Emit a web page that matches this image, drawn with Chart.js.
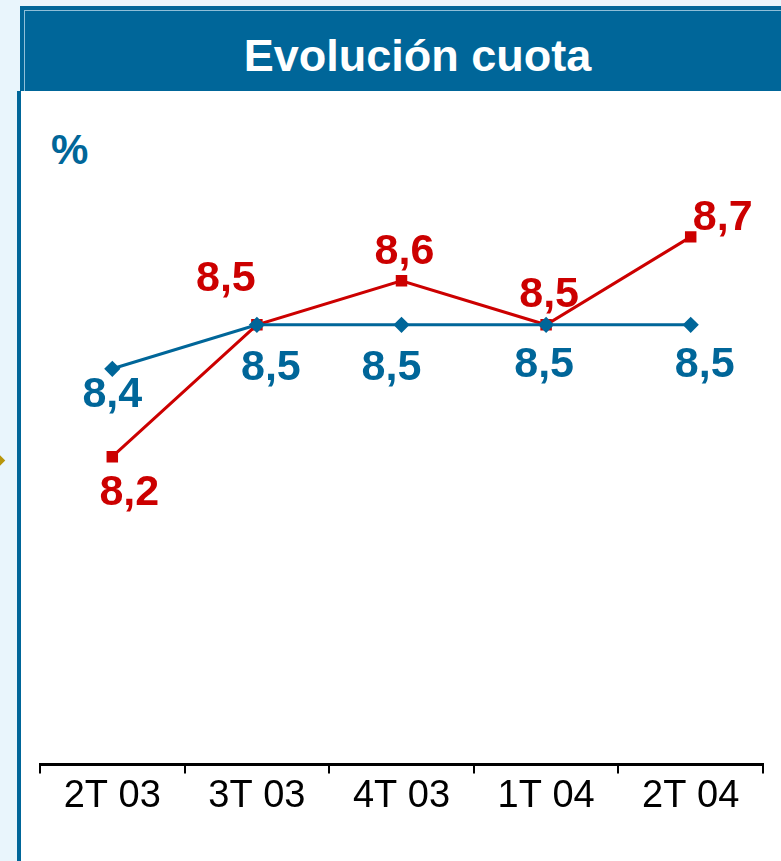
<!DOCTYPE html>
<html>
<head>
<meta charset="utf-8">
<script src="https://cdn.jsdelivr.net/npm/chart.js@4/dist/chart.umd.min.js"></script>
<style>
  html, body { margin: 0; padding: 0; }
  body { width: 781px; height: 861px; background: #e9f5fc; position: relative; overflow: hidden; font-family: "Liberation Sans", Arial, sans-serif; }
  .header { position: absolute; left: 20px; top: 6px; width: 761px; height: 85px; background: #006699; }
  .header .inner { position: absolute; left: 4px; top: 4px; right: 0; bottom: 0; border-top: 1px solid #8fbfd8; border-left: 1px solid #8fbfd8; }
  .header h1 { margin: 0; position: absolute; left: 0; right: -34px; top: 25px; text-align: center; color: #fff; font: bold 45px "Liberation Sans", Arial, sans-serif; line-height: 50px; }
  .panel { position: absolute; left: 17px; top: 91px; width: 764px; height: 770px; background: #fff; border-left: 4px solid #006699; box-sizing: border-box; }
  .unit { position: absolute; left: 51px; top: 126px; color: #006699; font: bold 42px "Liberation Sans", Arial, sans-serif; }
  .mark { position: absolute; left: -8px; top: 455px; width: 11px; height: 11px; background: #b8960c; transform: rotate(45deg); }
  #chart { position: absolute; left: 0; top: 0; }
</style>
</head>
<body>
<div class="header"><div class="inner"></div><h1>Evolución cuota</h1></div>
<div class="panel"></div>
<div class="mark"></div>
<div class="unit">%</div>
<canvas id="chart" width="781" height="861"></canvas>
<script>
// datos
const trimestres = ['2T 03', '3T 03', '4T 03', '1T 04', '2T 04'];
const serieAzul = [8.4, 8.5, 8.5, 8.5, 8.5];
const serieRoja = [8.2, 8.5, 8.6, 8.5, 8.7];

// desplazamiento de cada etiqueta respecto a su punto (px)
const offsetsAzul = [[0, 26], [14, 43], [-10, 43], [-2, 40], [14, 40]];
const offsetsRoja = [[17, 36], [-31, -46], [3, -29], [3, -30], [32, -19]];

const AZUL = '#006699';
const ROJO = '#cc0000';

const etiquetasPlugin = {
    id: 'etiquetas',
    afterDatasetsDraw(chart) {
        const ctx = chart.ctx;
        ctx.save();
        ctx.font = 'bold 43px "Liberation Sans", Arial, sans-serif';
        ctx.textAlign = 'center';
        ctx.textBaseline = 'middle';
        chart.data.datasets.forEach((ds, i) => {
            const meta = chart.getDatasetMeta(i);
            ctx.fillStyle = ds.borderColor;
            meta.data.forEach((pt, j) => {
                const off = ds.offsets[j];
                const txt = ds.data[j].toFixed(1).replace('.', ',');
                ctx.fillText(txt, pt.x + off[0], pt.y + off[1]);
            });
        });
        ctx.restore();
    }
};

new Chart(document.getElementById('chart'), {
    type: 'line',
    data: {
        labels: trimestres,
        datasets: [
            {
                data: serieAzul, offsets: offsetsAzul,
                borderColor: AZUL, backgroundColor: AZUL, borderWidth: 3,
                pointStyle: 'rectRot', pointRadius: 6, tension: 0, clip: false
            },
            {
                data: serieRoja, offsets: offsetsRoja,
                borderColor: ROJO, backgroundColor: ROJO, borderWidth: 3,
                pointStyle: 'rect', pointRadius: 6, tension: 0, clip: false
            }
        ]
    },
    options: {
        responsive: false,
        animation: false,
        layout: { padding: { left: 40, right: 18, top: 105, bottom: 42 } },
        plugins: { legend: { display: false }, tooltip: { enabled: false } },
        scales: {
            y: { display: false, min: 7.5, max: 9.0 },
            x: {
                offset: true,
                grid: { offset: true, drawOnChartArea: false, tickLength: 9, color: '#000', lineWidth: 2 },
                border: { color: '#000', width: 3 },
                ticks: { color: '#000', padding: 0, font: { size: 38, family: '"Liberation Sans", Arial, sans-serif' }, maxRotation: 0 }
            }
        }
    },
    plugins: [etiquetasPlugin]
});
</script>
</body>
</html>
